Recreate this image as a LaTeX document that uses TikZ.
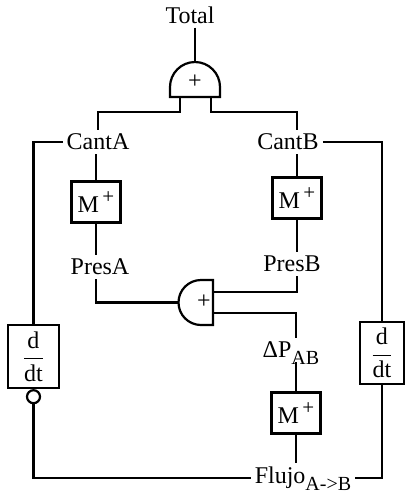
\documentclass[tikz,border=0pt]{standalone}
\usepackage{fontspec}
\setmainfont{Liberation Serif}
\usetikzlibrary{positioning}
\newcommand{\supplus}{\raisebox{0.75ex}{\fontsize{10.5}{10.5}\selectfont\,+}}
\newcommand{\lowsub}[1]{\smash{\raisebox{-0.6ex}{\fontsize{10}{10}\selectfont #1}}}
\begin{document}
\begin{tikzpicture}[x=0.5pt, y=-0.5pt, line width=1.1pt,
  every node/.style={font=\fontsize{12}{14}\selectfont},
  lbl/.style={inner sep=1.5pt},
  mbox/.style={draw, minimum width=24.5pt, minimum height=20.5pt, inner sep=0pt},
  ddtbox/.style={draw, minimum height=31.5pt, inner sep=0pt}]
  \useasboundingbox (0,0) rectangle (406,500);
  % etiquetas
  \node[lbl] (total) at (190,15) {Total};
  \node[lbl] (cantA) at (98,142) {CantA};
  \node[lbl] (cantB) at (288,142) {CantB};
  \node[lbl] (presA) at (100,267) {PresA};
  \node[lbl] (presB) at (292,264) {PresB};
  \node[lbl] (dP) at (291,350) {ΔP\lowsub{AB}};
  \node[lbl] (flujo) at (303,478) {Flujo\lowsub{A->B}};
  % bloques
  \node[mbox] (mA) at (96,202) {M\supplus};
  \node[mbox] (mB) at (297,198) {M\supplus};
  \node[mbox] (mC) at (296,413) {M\supplus};
  \node[ddtbox, minimum width=25.5pt] (ddtA) at (33.5,356.5)
    {$\displaystyle\frac{\textrm{d}}{\textrm{dt}}$};
  \node[ddtbox, minimum width=22pt, minimum height=31pt] (ddtB) at (382,353)
    {$\displaystyle\frac{\textrm{d}}{\textrm{dt}}$};
  \node[draw, circle, inner sep=0pt, minimum size=6.5pt, below=0pt of ddtA] (neg) {};
  % sumador Total
  \draw (170,97) -- (170,87) arc[start angle=180, end angle=360, radius=25]
    -- (220,97) -- cycle;
  \node (addT) at (195,82) {+};
  \coordinate (addTtop) at (195,62);
  \coordinate (addTL) at (180,97);
  \coordinate (addTR) at (211,97);
  % sumador presiones
  \draw (213,280) -- (201,280) arc[start angle=270, end angle=90, radius=22.5]
    -- (213,325) -- cycle;
  \node (addP) at (204,302) {+};
  \coordinate (addPin) at (178.5,302.5);
  \coordinate (addPo1) at (213,292);
  \coordinate (addPo2) at (213,313);
  % conexiones
  \draw (addTtop |- total.south) -- (addTtop);
  \draw (addTL) -- ++(0,15) -| (cantA);
  \draw (addTR) -- ++(0,15) -| (mB |- cantB.north);
  \draw (mA) -- (mA |- cantA.south);
  \draw (mA) -- (mA |- presA.north);
  \draw (mB) -- (mB |- cantB.south);
  \draw (mB) -- (mB |- presB.north);
  \draw (mA |- presA.south) |- (addPin);
  \draw (addPo1) -| (mB |- presB.south);
  \draw (addPo2) -| (mC |- dP.north);
  \draw (mC) -- (mC |- dP.south);
  \draw (mC) -- (mC |- flujo.north);
  \draw (cantA) -| (ddtA);
  \draw (cantB) -| (ddtB);
  \draw (flujo) -| (neg);
  \draw (flujo) -| (ddtB);
\end{tikzpicture}
\end{document}
